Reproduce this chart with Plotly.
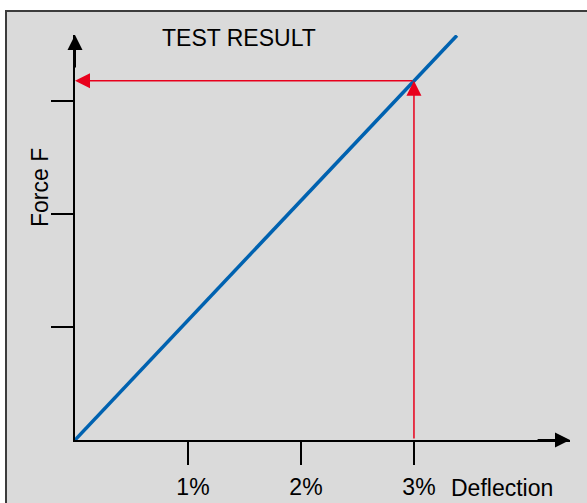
import plotly.graph_objects as go

# ---- data ----
deflection_pct = [0.0, 3.38]     # % deflection along the test line
force = [0.0, 3.58]              # force (in y-tick units)
test_deflection = 3.0            # measured test point
test_force = 3.18
x_tick_vals = [1, 2, 3]
x_tick_text = ["1%", "2%", "3%"]
y_tick_vals = [1, 2, 3]

X_MAX = 4.381
Y_MAX = 3.584

W, H = 587, 503
L, R, T, B = 75, 17, 35, 63
PW, PH = W - L - R, H - T - B

def px(xp):
    return (xp - L) / PW

def py(yp):
    return (H - B - yp) / PH

FONT = "Liberation Sans, Arial, sans-serif"
BLUE = "#0062b0"
RED = "#e8001c"
FS = 23

fig = go.Figure()

fig.add_trace(go.Scatter(
    x=deflection_pct, y=force, mode="lines",
    line=dict(color=BLUE, width=3.5), hoverinfo="skip", showlegend=False,
    cliponaxis=False,
))

# background frame
fig.add_shape(type="rect", xref="paper", yref="paper",
              x0=px(6), x1=px(592), y0=py(11), y1=py(510),
              fillcolor="#dadada", line=dict(color="#3c3c3c", width=2),
              layer="below")

annos = []
# axis arrowheads
annos.append(dict(x=X_MAX, y=0, ax=X_MAX - 0.3, ay=0, xref="x", yref="y",
                  axref="x", ayref="y", showarrow=True, arrowhead=2,
                  arrowsize=1.5, arrowwidth=2, arrowcolor="black", text=""))
annos.append(dict(x=0, y=Y_MAX, ax=0, ay=Y_MAX - 0.3, xref="x", yref="y",
                  axref="x", ayref="y", showarrow=True, arrowhead=2,
                  arrowsize=1.5, arrowwidth=2, arrowcolor="black", text=""))
# red arrows (test result)
annos.append(dict(x=test_deflection, y=test_force, ax=test_deflection, ay=0,
                  xref="x", yref="y", axref="x", ayref="y", showarrow=True,
                  arrowhead=2, arrowsize=2, arrowwidth=1.5, arrowcolor=RED, text=""))
annos.append(dict(x=0, y=test_force, ax=test_deflection, ay=test_force,
                  xref="x", yref="y", axref="x", ayref="y", showarrow=True,
                  arrowhead=2, arrowsize=2, arrowwidth=1.5, arrowcolor=RED, text=""))
# texts
annos.append(dict(x=px(502), y=py(488), xref="paper", yref="paper", text="Deflection",
                  showarrow=False, xanchor="center", yanchor="middle",
                  font=dict(family=FONT, size=FS, color="black")))
annos.append(dict(x=px(40), y=py(188), xref="paper", yref="paper", text="Force F",
                  showarrow=False, xanchor="center", yanchor="middle", textangle=-90,
                  font=dict(family=FONT, size=FS, color="black")))
annos.append(dict(x=px(238.5), y=py(37.5), xref="paper", yref="paper", text="TEST RESULT",
                  showarrow=False, xanchor="center", yanchor="middle",
                  font=dict(family=FONT, size=FS, color="black")))

fig.update_layout(
    width=W, height=H, margin=dict(l=L, r=R, t=T, b=B, pad=0, autoexpand=False),
    paper_bgcolor="white", plot_bgcolor="rgba(0,0,0,0)",
    annotations=annos,
    xaxis=dict(range=[0, X_MAX], showgrid=False, zeroline=False, showline=True,
               automargin=False,
               linecolor="black", linewidth=2, ticks="outside", ticklen=23,
               tickwidth=1.5, tickcolor="black", tickvals=x_tick_vals,
               ticktext=x_tick_text, ticklabelshift=5, ticklabelstandoff=2,
               tickfont=dict(family=FONT, size=FS, color="black"), fixedrange=True),
    yaxis=dict(range=[0, Y_MAX], showgrid=False, zeroline=False, showline=True,
               automargin=False,
               linecolor="black", linewidth=2, ticks="outside", ticklen=22,
               tickwidth=1.5, tickcolor="black", tickvals=y_tick_vals,
               showticklabels=False, fixedrange=True),
)

fig.write_html("out.html", config={"displayModeBar": False},
               post_script="document.body.style.margin='0';")
